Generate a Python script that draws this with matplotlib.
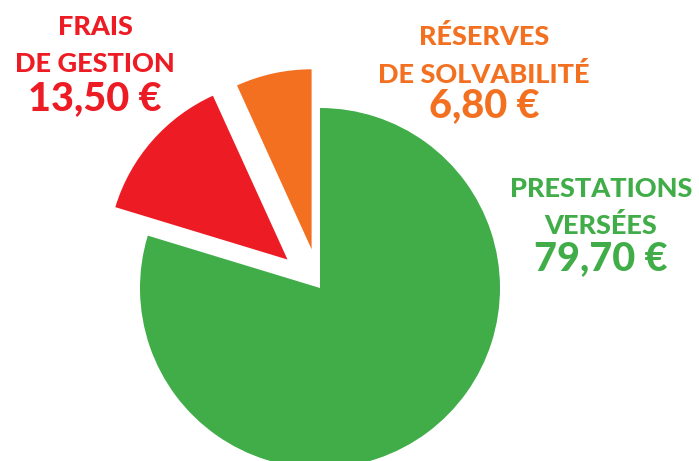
import matplotlib.pyplot as plt

# répartition d'une cotisation de 100 €
parts = {
    "PRESTATIONS\nVERSÉES": (79.70, "#41ad49"),
    "FRAIS\nDE GESTION": (13.50, "#ed1c24"),
    "RÉSERVES\nDE SOLVABILITÉ": (6.80, "#f37021"),
}
explode = [0, 0.24, 0.22]

W, H = 699, 461
fig = plt.figure(figsize=(W / 100, H / 100), dpi=100)
ax = fig.add_axes([0, 0, 1, 1])

values = [v for v, c in parts.values()]
colors = [c for v, c in parts.values()]
ax.pie(values, colors=colors, startangle=90, counterclock=False,
       explode=explode, radius=1, wedgeprops={"linewidth": 0})

# pie centre at pixel (320, 288), radius 180 px
ax.set_xlim(-320 / 180, (W - 320) / 180)
ax.set_ylim(-(H - 288) / 180, 288 / 180)
ax.set_aspect("auto")
ax.axis("off")

font = ["Lato", "DejaVu Sans"]

def label(x, ys, lines, amount, color):
    for y, line in zip(ys[:2], lines):
        fig.text(x / W, 1 - y / H, line, ha="center", va="baseline",
                 fontsize=19.5, fontweight="black", color=color, family=font)
    fig.text(x / W, 1 - ys[2] / H, amount, ha="center", va="baseline",
             fontsize=28.5, fontweight="black", color=color, family=font)

label(95, [35, 72, 110], ["FRAIS", "DE GESTION"], "13,50 €", "#ed1c24")
label(484, [45, 83, 117], ["RÉSERVES", "DE SOLVABILITÉ"], "6,80 €", "#f37021")
label(601, [197, 234, 270], ["PRESTATIONS", "VERSÉES"], "79,70 €", "#41ad49")

fig.savefig("out.png", dpi=100)
